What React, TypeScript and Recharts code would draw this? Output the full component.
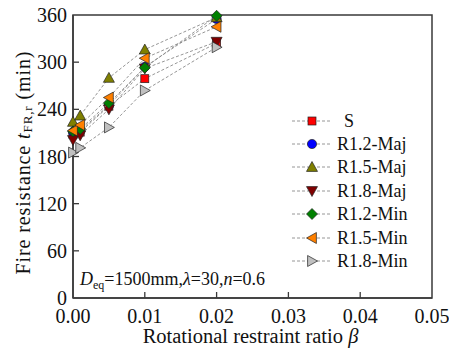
import React from "react";
import { ScatterChart, Scatter, XAxis, YAxis, ReferenceArea, Label } from "recharts";

const betaValues = [0, 0.001, 0.005, 0.01, 0.02];
const xTicks = [0, 0.01, 0.02, 0.03, 0.04, 0.05];
const yTicks = [0, 60, 120, 180, 240, 300, 360];

const sValues = [208, 211, 244, 279, 324];
const r12MajValues = [211, 213, 245, 294, 355];
const r15MajValues = [224, 232, 280, 316, 357];
const r18MajValues = [201, 207, 240, 292, 326];
const r12MinValues = [212, 215, 248, 293, 359];
const r15MinValues = [213, 220, 255, 305, 345];
const r18MinValues = [185, 191, 217, 264, 319];

const FONT = "'Liberation Serif', 'Times New Roman', serif";
const AXIS = "#3a3a3a";

type Kind = "square" | "circle" | "up" | "down" | "diamond" | "left" | "right";

function marker(kind: Kind, fill: string, cx: number, cy: number) {
  const s = 5.5;
  const common = { fill, stroke: "#222", strokeWidth: 0.7 };
  switch (kind) {
    case "square":
      return <rect x={cx - 4} y={cy - 4} width={8} height={8} {...common} />;
    case "circle":
      return <circle cx={cx} cy={cy} r={4.6} {...common} />;
    case "up":
      return <polygon points={`${cx},${cy - s} ${cx - s},${cy + s * 0.8} ${cx + s},${cy + s * 0.8}`} {...common} />;
    case "down":
      return <polygon points={`${cx},${cy + s} ${cx - s},${cy - s * 0.8} ${cx + s},${cy - s * 0.8}`} {...common} />;
    case "diamond":
      return <polygon points={`${cx},${cy - s} ${cx + s},${cy} ${cx},${cy + s} ${cx - s},${cy}`} {...common} />;
    case "left":
      return <polygon points={`${cx - s},${cy} ${cx + s * 0.8},${cy - s} ${cx + s * 0.8},${cy + s}`} {...common} />;
    case "right":
      return <polygon points={`${cx + s},${cy} ${cx - s * 0.8},${cy - s} ${cx - s * 0.8},${cy + s}`} {...common} />;
  }
}

const series: { name: string; values: number[]; kind: Kind; color: string }[] = [
  { name: "S", values: sValues, kind: "square", color: "#ff0000" },
  { name: "R1.2-Maj", values: r12MajValues, kind: "circle", color: "#0000ff" },
  { name: "R1.5-Maj", values: r15MajValues, kind: "up", color: "#808000" },
  { name: "R1.8-Maj", values: r18MajValues, kind: "down", color: "#800000" },
  { name: "R1.2-Min", values: r12MinValues, kind: "diamond", color: "#008000" },
  { name: "R1.5-Min", values: r15MinValues, kind: "left", color: "#ff8000" },
  { name: "R1.8-Min", values: r18MinValues, kind: "right", color: "#c0c0c0" },
];

const XTick = (props: any) => {
  const { x, y, payload } = props;
  const isEdge = payload.value === 0 || payload.value === 0.05;
  return (
    <g>
      {!isEdge && <line x1={x} x2={x} y1={y - 4} y2={y - 10} stroke={AXIS} strokeWidth={1.3} />}
      <text x={x} y={y + 21} textAnchor="middle" fontFamily={FONT} fontSize={20} fill="#111">
        {payload.value.toFixed(2)}
      </text>
    </g>
  );
};

const YTick = (props: any) => {
  const { x, y, payload } = props;
  const isEdge = payload.value === 0 || payload.value === 360;
  return (
    <g>
      {!isEdge && <line x1={x + 6} x2={x + 12} y1={y} y2={y} stroke={AXIS} strokeWidth={1.3} />}
      <text x={x} y={y} dy="0.35em" textAnchor="end" fontFamily={FONT} fontSize={20} fill="#111">
        {payload.value}
      </text>
    </g>
  );
};

const YLabel = (props: any) => {
  const { viewBox } = props;
  const cx = 23;
  const cy = viewBox.y + viewBox.height / 2 + 6;
  return (
    <text
      x={cx}
      y={cy}
      transform={`rotate(-90 ${cx} ${cy})`}
      textAnchor="middle"
      dominantBaseline="central"
      fontFamily={FONT}
      fontSize={20}
      letterSpacing={0.9}
      fill="#111"
    >
      Fire resistance{" "}
      <tspan fontStyle="italic">t</tspan>
      <tspan fontSize={13} dy={4}>FR,r</tspan>
      <tspan dy={-4}>{"  (min)"}</tspan>
    </text>
  );
};

const XLabel = (props: any) => {
  const { viewBox } = props;
  const cx = viewBox.x + viewBox.width / 2 - 2;
  return (
    <text x={cx} y={343} textAnchor="middle" fontFamily={FONT} fontSize={20.5} fill="#111">
      Rotational restraint ratio{"  "}
      <tspan fontStyle="italic">β</tspan>
    </text>
  );
};

export default function App() {
  return (
    <div style={{ position: "absolute", left: 0, top: 0, width: 449, height: 356, background: "#fff" }}>
      <ScatterChart width={449} height={356} margin={{ top: 15, right: 17, bottom: 28, left: 33 }}>
        <ReferenceArea x1={0} x2={0.05} y1={0} y2={360} fill="none" stroke={AXIS} strokeWidth={1.5} strokeOpacity={1} />
        <XAxis
          type="number"
          dataKey="x"
          domain={[0, 0.05]}
          ticks={xTicks}
          height={30}
          tickSize={0}
          tickMargin={4}
          tickLine={false}
          axisLine={{ stroke: AXIS, strokeWidth: 1.5 }}
          tick={<XTick />}
          interval={0}
        >
          <Label content={<XLabel />} />
        </XAxis>
        <YAxis
          type="number"
          dataKey="y"
          domain={[0, 360]}
          ticks={yTicks}
          width={40}
          tickSize={0}
          tickMargin={6}
          tickLine={false}
          axisLine={{ stroke: AXIS, strokeWidth: 1.5 }}
          tick={<YTick />}
          interval={0}
        >
          <Label content={<YLabel />} />
        </YAxis>
        {series.map((s) => (
          <Scatter
            key={s.name}
            name={s.name}
            data={betaValues.map((b, i) => ({ x: b, y: s.values[i] }))}
            line={{ stroke: "#8a8a8a", strokeWidth: 0.9, strokeDasharray: "3 2" }}
            lineType="joint"
            shape={(p: any) => marker(s.kind, s.color, p.cx, p.cy)}
            isAnimationActive={false}
          />
        ))}
      </ScatterChart>

      <div style={{ position: "absolute", left: 290, top: 109, fontFamily: FONT, fontSize: 18, color: "#111" }}>
        {series.map((s) => (
          <div key={s.name} style={{ display: "flex", alignItems: "center", height: 23.4 }}>
            <svg width={44} height={20}>
              <line x1={2} x2={42} y1={10} y2={10} stroke="#8a8a8a" strokeWidth={0.9} strokeDasharray="3 2" />
              {marker(s.kind, s.color, 22, 10)}
            </svg>
            <span style={{ marginLeft: s.name === "S" ? 10 : 3, lineHeight: "20px" }}>{s.name}</span>
          </div>
        ))}
      </div>

      <svg width={220} height={30} style={{ position: "absolute", left: 76, top: 264 }}>
        <text x={4} y={21} fontFamily={FONT} fontSize={18} fill="#111">
          <tspan fontStyle="italic">D</tspan>
          <tspan fontSize={12} dy={4}>eq</tspan>
          <tspan dy={-4}>=1500mm,</tspan>
          <tspan fontStyle="italic">λ</tspan>
          <tspan>=30,</tspan>
          <tspan fontStyle="italic">n</tspan>
          <tspan>=0.6</tspan>
        </text>
      </svg>
    </div>
  );
}
